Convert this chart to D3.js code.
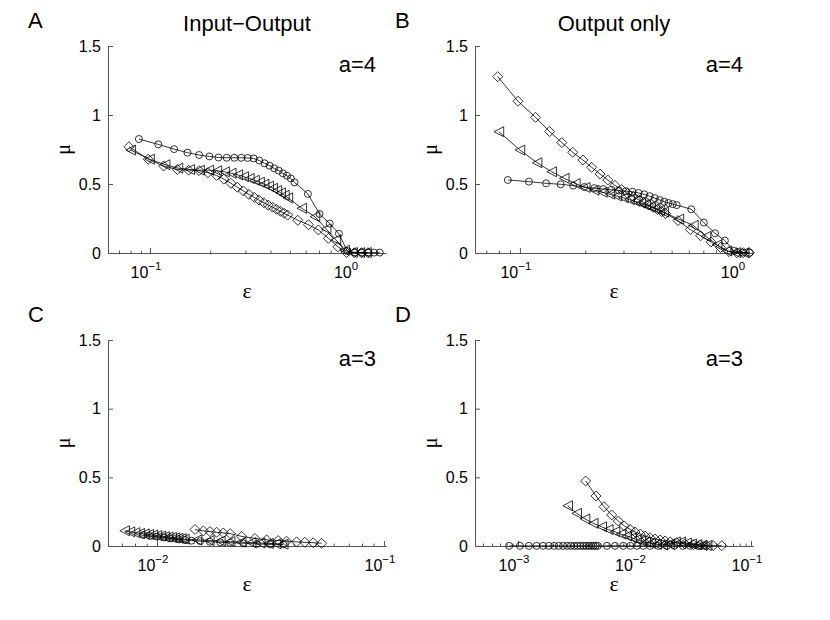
<!DOCTYPE html>
<html>
<head>
<meta charset="utf-8">
<script src="https://cdn.jsdelivr.net/npm/d3@7"></script>
<style>
body { margin: 0; background: #fff; }
text { font-family: "Liberation Sans", Arial, Helvetica, sans-serif; fill: #000; }
.greek { font-family: "Liberation Serif", "DejaVu Serif", serif; }
</style>
</head>
<body>
<svg id="fig" width="830" height="620"></svg>
<script>
// ---- data ----
// Panel A: Input-Output, a=4
const epsA_circ = [0.088,0.110,0.132,0.154,0.176,0.198,0.220,0.242,0.264,0.286,0.308,0.330,0.352,0.374,0.396,0.418,0.440,0.462,0.484,0.506,0.528,0.616,0.704,0.792,0.880,0.968,1.056,1.144,1.232,1.320,1.408]
const muA_circ  = [0.826,0.787,0.753,0.727,0.710,0.700,0.692,0.690,0.690,0.690,0.689,0.685,0.670,0.650,0.633,0.613,0.597,0.577,0.560,0.540,0.512,0.428,0.283,0.213,0.140,0.015,0.004,0.003,0.003,0.003,0.003]
const epsA_tri  = [0.080,0.0995,0.119,0.138,0.158,0.177,0.197,0.216,0.236,0.255,0.275,0.294,0.314,0.333,0.353,0.372,0.392,0.411,0.431,0.450,0.470,0.489,0.574,0.668,0.760,0.850,0.940,1.030,1.120,1.210]
const muA_tri   = [0.746,0.680,0.640,0.615,0.605,0.600,0.600,0.596,0.588,0.578,0.566,0.553,0.540,0.527,0.513,0.499,0.484,0.469,0.453,0.436,0.418,0.400,0.324,0.263,0.175,0.095,0.020,0.004,0.003,0.003]
const epsA_dia  = [0.0785,0.098,0.117,0.137,0.156,0.176,0.195,0.215,0.234,0.254,0.273,0.293,0.312,0.332,0.351,0.371,0.390,0.410,0.429,0.449,0.468,0.488,0.548,0.620,0.695,0.780,0.870,0.960,1.050,1.140,1.230]
const muA_dia   = [0.770,0.680,0.630,0.605,0.600,0.597,0.582,0.562,0.535,0.505,0.477,0.450,0.425,0.403,0.383,0.364,0.347,0.332,0.317,0.302,0.288,0.275,0.237,0.205,0.167,0.106,0.045,0.004,0.002,0.002,0.002]

// Panel B: Output only, a=4
const epsB_circ = [0.088,0.110,0.132,0.154,0.176,0.198,0.220,0.242,0.264,0.286,0.308,0.330,0.352,0.374,0.396,0.418,0.440,0.462,0.484,0.506,0.528,0.616,0.704,0.792,0.880,0.968,1.056,1.144]
const muB_circ  = [0.529,0.517,0.505,0.498,0.488,0.478,0.470,0.463,0.458,0.453,0.448,0.444,0.435,0.425,0.412,0.398,0.384,0.372,0.362,0.354,0.347,0.317,0.220,0.143,0.090,0.015,0.003,0.002]
const epsB_tri  = [0.080,0.100,0.120,0.140,0.160,0.180,0.200,0.220,0.240,0.260,0.280,0.300,0.320,0.340,0.360,0.380,0.400,0.420,0.440,0.460,0.540,0.630,0.720,0.810,0.900,0.990,1.080]
const muB_tri   = [0.879,0.746,0.654,0.589,0.541,0.503,0.475,0.455,0.440,0.426,0.413,0.400,0.387,0.374,0.361,0.348,0.335,0.322,0.309,0.296,0.245,0.200,0.120,0.060,0.015,0.003,0.002]
const epsB_dia  = [0.079,0.098,0.118,0.137,0.156,0.175,0.195,0.214,0.234,0.254,0.274,0.294,0.313,0.333,0.352,0.372,0.391,0.411,0.430,0.450,0.469,0.535,0.610,0.680,0.760,0.840,0.920,1.000,1.070,1.140]
const muB_dia   = [1.278,1.100,0.983,0.880,0.800,0.730,0.674,0.621,0.572,0.529,0.490,0.460,0.432,0.408,0.386,0.366,0.348,0.331,0.315,0.300,0.286,0.235,0.170,0.125,0.080,0.040,0.010,0.002,0.002,0.002]

// Panel C: Input-Output, a=3
const epsC_circ = [0.0087,0.0093,0.0100,0.0107,0.0114,0.0124,0.0133,0.0142,0.0155,0.0171,0.0190,0.0210,0.0240,0.0275,0.0315,0.0360]
const muC_circ  = [0.080,0.073,0.068,0.063,0.056,0.049,0.044,0.039,0.036,0.031,0.027,0.024,0.020,0.015,0.012,0.012]
const epsC_tri  = [0.0072,0.0076,0.0080,0.0084,0.0088,0.0092,0.0096,0.0100,0.0104,0.0108,0.0112,0.0116,0.0120,0.0124,0.0128,0.0132,0.0150,0.0170,0.0190,0.0210,0.0235,0.0260,0.0285,0.0310,0.0335,0.0360]
const muC_tri   = [0.111,0.103,0.097,0.092,0.088,0.084,0.080,0.076,0.072,0.068,0.065,0.062,0.059,0.056,0.053,0.050,0.045,0.040,0.036,0.032,0.028,0.025,0.022,0.019,0.016,0.013]
const epsC_dia  = [0.0147,0.0160,0.0171,0.0183,0.0196,0.0210,0.0236,0.0270,0.0304,0.0342,0.0372,0.0412,0.0448,0.0488,0.0531]
const muC_dia   = [0.120,0.110,0.105,0.100,0.095,0.090,0.070,0.055,0.045,0.040,0.035,0.030,0.027,0.024,0.020]

// Panel D: Output only, a=3
const epsD_circ = [0.00084,0.00104,0.00124,0.00144,0.00164,0.00184,0.00204,0.00224,0.00244,0.00264,0.00284,0.00304,0.00324,0.00344,0.00364,0.00384,0.00404,0.00424,0.00444,0.00464,0.00484,0.0058,0.0068,0.0080,0.0092,0.0105,0.0119,0.0136,0.0160,0.0190,0.0220,0.0260,0.0300,0.0350,0.0400]
const muD_circ  = [0.001,0.001,0.001,0.001,0.001,0.001,0.001,0.001,0.001,0.001,0.001,0.001,0.001,0.001,0.001,0.001,0.001,0.001,0.001,0.001,0.001,0.001,0.001,0.001,0.001,0.001,0.001,0.001,0.001,0.001,0.001,0.001,0.001,0.001,0.001]
const epsD_tri  = [0.00267,0.00319,0.00376,0.00443,0.00523,0.00596,0.0068,0.00766,0.00857,0.00946,0.0104,0.0114,0.0125,0.0137,0.0155,0.0175,0.0200,0.0225,0.0250,0.0280,0.0310,0.0345,0.0380,0.0420]
const muD_tri   = [0.293,0.238,0.197,0.165,0.140,0.120,0.104,0.087,0.073,0.060,0.048,0.038,0.028,0.020,0.012,0.008,0.015,0.030,0.030,0.022,0.015,0.010,0.006,0.004]
const epsD_dia  = [0.00381,0.00468,0.00548,0.00637,0.00726,0.00818,0.00916,0.0101,0.0112,0.0123,0.0136,0.0150,0.0166,0.0183,0.0202,0.0230,0.0270,0.0320,0.0365,0.0416,0.0474,0.0561]
const muD_dia   = [0.473,0.364,0.286,0.226,0.182,0.146,0.121,0.102,0.087,0.073,0.060,0.051,0.044,0.037,0.030,0.024,0.016,0.010,0.006,0.004,0.003,0.002]

const yTicks = [0, 0.5, 1, 1.5]

// ---- layout ----
const panels = [
    {id: 'A', title: 'Input\u2212Output', a: 'a=4', left: 108, right: 386, top: 46, bottom: 253,
     xdom: [Math.pow(10, -1.21), Math.pow(10, 0.18)], majors: [-1, 0],
     series: [[epsA_circ, muA_circ, 'circle'], [epsA_tri, muA_tri, 'tri'], [epsA_dia, muA_dia, 'dia']]},
    {id: 'B', title: 'Output only', a: 'a=4', left: 475, right: 753, top: 46, bottom: 253,
     xdom: [Math.pow(10, -1.207), Math.pow(10, 0.074)], majors: [-1, 0],
     series: [[epsB_circ, muB_circ, 'circle'], [epsB_tri, muB_tri, 'tri'], [epsB_dia, muB_dia, 'dia']]},
    {id: 'C', title: null, a: 'a=3', left: 108, right: 386, top: 340, bottom: 546,
     xdom: [Math.pow(10, -2.216), Math.pow(10, -0.991)], majors: [-2, -1],
     series: [[epsC_circ, muC_circ, 'circle'], [epsC_tri, muC_tri, 'tri'], [epsC_dia, muC_dia, 'dia']]},
    {id: 'D', title: null, a: 'a=3', left: 475, right: 753, top: 340, bottom: 546,
     xdom: [Math.pow(10, -3.369), Math.pow(10, -0.983)], majors: [-3, -2, -1],
     series: [[epsD_circ, muD_circ, 'circle'], [epsD_tri, muD_tri, 'tri'], [epsD_dia, muD_dia, 'dia']]}
]

const markerPath = {
    circle: d3.symbol().type(d3.symbolCircle).size(Math.PI * 3.5 * 3.5)(),
    tri: 'M-4.8,0L4.8,-5L4.8,5Z',
    dia: 'M0,-5L5,0L0,5L-5,0Z'
}

const svg = d3.select('#fig')
const axisColor = '#555'

panels.forEach(function(p) {
    let x = d3.scaleLog().domain(p.xdom).range([p.left, p.right])
    let y = d3.scaleLinear().domain([0, 1.5]).range([p.bottom, p.top])

    // minor ticks 2..9 x 10^k inside domain
    let minors = []
    for (let e = -4; e <= 1; e++) {
        for (let k = 2; k <= 9; k++) {
            let v = k * Math.pow(10, e)
            if (v >= p.xdom[0] && v <= p.xdom[1]) minors.push(v)
        }
    }
    let majorVals = p.majors.map(e => Math.pow(10, e))

    let gx = svg.append('g').attr('transform', `translate(0, ${p.bottom})`)
    gx.call(d3.axisBottom(x).tickValues(minors).tickSize(-2.5).tickSizeOuter(0).tickFormat(''))
    gx.append('g').call(d3.axisBottom(x).tickValues(majorVals).tickSize(-5).tickSizeOuter(0).tickFormat(''))
    gx.selectAll('path, line').attr('stroke', axisColor)

    // 10^k labels
    p.majors.forEach(function(e) {
        let t = svg.append('text')
            .attr('x', x(Math.pow(10, e)) - 4)
            .attr('y', p.bottom + 25)
            .attr('text-anchor', 'middle')
            .style('font-size', '16px')
        t.append('tspan').text('10')
        t.append('tspan').attr('dy', -8).style('font-size', '11.5px').text(e === 0 ? '0' : '\u2212' + (-e))
    })

    let gy = svg.append('g').attr('transform', `translate(${p.left}, 0)`)
    gy.call(d3.axisLeft(y).tickValues(yTicks).tickSize(-5).tickSizeOuter(0).tickPadding(7)
        .tickFormat(d => String(d)))
    gy.selectAll('path, line').attr('stroke', axisColor)
    gy.selectAll('text').style('font-size', '16px').attr('fill', '#000')

    // axis labels
    svg.append('text').attr('class', 'greek')
        .attr('x', (p.left + p.right) / 2)
        .attr('y', p.bottom + 45)
        .attr('text-anchor', 'middle')
        .style('font-size', '22px')
        .text('\u03b5')
    svg.append('text').attr('class', 'greek')
        .attr('transform', `translate(${p.left - 38}, ${(p.top + p.bottom) / 2}) rotate(-90)`)
        .attr('text-anchor', 'middle')
        .style('font-size', '20px')
        .text('\u03bc')

    // panel letter, title, parameter
    svg.append('text')
        .attr('x', p.left - 80)
        .attr('y', p.top - 18)
        .style('font-size', '22px')
        .text(p.id)
    if (p.title) {
        svg.append('text')
            .attr('x', (p.left + p.right) / 2)
            .attr('y', p.top - 15)
            .attr('text-anchor', 'middle')
            .style('font-size', '22px')
            .text(p.title)
    }
    svg.append('text')
        .attr('x', p.right - 10)
        .attr('y', p.top + 26)
        .attr('text-anchor', 'end')
        .style('font-size', '22px')
        .text(p.a)

    // series
    let line = d3.line().x(d => x(d[0])).y(d => y(d[1]))
    p.series.forEach(function(s) {
        let pts = s[0].map((v, i) => [v, s[1][i]])
        svg.append('path')
            .datum(pts)
            .attr('d', line)
            .attr('fill', 'none')
            .attr('stroke', '#000')
            .attr('stroke-width', 0.8)
        svg.append('g').selectAll('path')
            .data(pts)
            .enter()
            .append('path')
            .attr('d', markerPath[s[2]])
            .attr('transform', d => `translate(${x(d[0])}, ${y(d[1])})`)
            .attr('fill', 'none')
            .attr('stroke', '#000')
            .attr('stroke-width', 0.8)
    })
})
</script>
</body>
</html>
